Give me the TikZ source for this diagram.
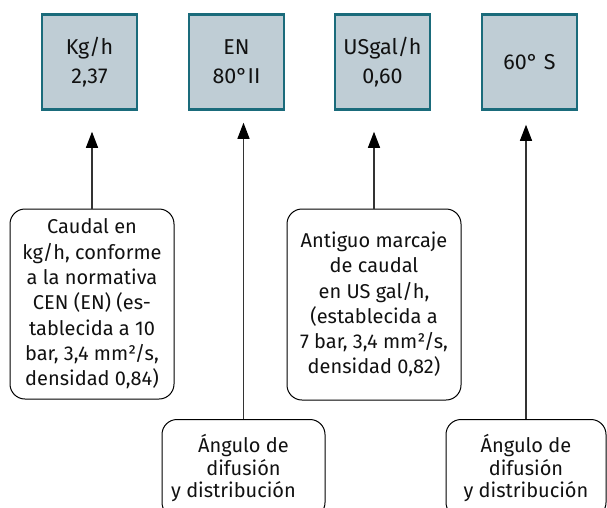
\documentclass[tikz,border=0pt]{standalone}
\usepackage{fontspec}
\setmainfont{Fira Sans}
\usetikzlibrary{arrows.meta}
\definecolor{boxfill}{HTML}{BFCDD5}
\definecolor{boxedge}{HTML}{1A6B7B}
\definecolor{txt}{HTML}{111111}
\definecolor{linegray}{HTML}{333333}
\tikzset{
  topbox/.style={draw=boxedge, line width=2.5pt, fill=boxfill, minimum width=95pt, minimum height=95pt,
    inner sep=0pt, align=center, text=txt, font=\fontsize{21.5}{29}\selectfont},
  notebox/.style={draw=black, line width=1pt, rounded corners=15pt, align=center, inner sep=0pt,
    text=txt, font=\fontsize{20}{25.3}\selectfont},
  angbox/.style={notebox, font=\fontsize{20}{22.5}\selectfont, minimum height=98pt, anchor=north},
  arr/.style={draw=linegray, line width=1.1pt, -{Triangle[length=16pt,width=12pt,color=black,fill=black]}}
}
\begin{document}
\begin{tikzpicture}[x=1pt,y=-1pt]
\useasboundingbox (0,0) rectangle (607,507);
% top boxes
\node[topbox] (kg) at (89.5,62) {Kg/h\\2,37};
\node[topbox] (en) at (236.5,62) {EN\\80°II};
\node[topbox] (us) at (382.5,62) {USgal/h\\0,60};
\node[topbox] (sx) at (529.5,62) {60° S};
% lower boxes
\node[notebox, minimum width=164pt, minimum height=190pt] (caudal) at (92,304)
  {Caudal en\\kg/h, conforme\\a la normativa\\CEN (EN) (es-\\tablecida a 10\\bar, 3,4 mm²/s,\\densidad 0,84)};
\node[notebox, minimum width=174pt, minimum height=191pt] (antiguo) at (374,304.5)
  {Antiguo marcaje\\de caudal\\en US gal/h,\\(establecida a\\7 bar, 3,4 mm²/s,\\densidad 0,82)};
\node[angbox, minimum width=163pt] (ang1) at (243.5,419)
  {Ángulo de\\difusión\\y distribución\kern20pt};
\node[angbox, minimum width=160pt] (ang2) at (526,419)
  {Ángulo de\\difusión\\y distribución};
% arrows
\draw[arr] (caudal.north) -- ([yshift=-21pt]kg.south -| caudal.north);
\draw[arr] (ang1.north) -- ([yshift=-12pt]en.south -| ang1.north);
\draw[arr] (antiguo.north) -- ([yshift=-21pt]us.south -| antiguo.north);
\draw[arr] (ang2.north) -- ([yshift=-14pt]sx.south -| ang2.north);
\end{tikzpicture}
\end{document}
